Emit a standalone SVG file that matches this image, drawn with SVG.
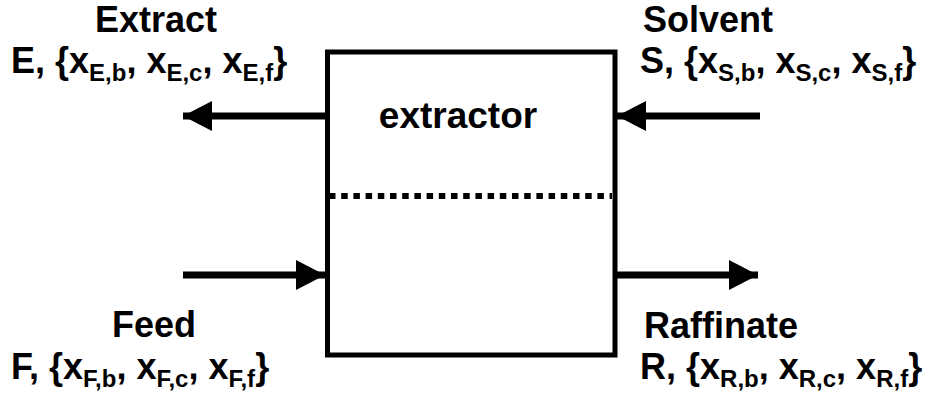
<svg xmlns="http://www.w3.org/2000/svg" width="930" height="399" viewBox="0 0 930 399">
<style>
text{font-family:"Liberation Sans",Arial,sans-serif;font-weight:bold;fill:#000}
.lbl{font-size:36px}
.sub{font-size:24px}
.flow{stroke:#000;stroke-width:7;fill:none}
</style>
<defs>
<marker id="ah" markerUnits="userSpaceOnUse" markerWidth="30" markerHeight="30" refX="29" refY="15" orient="auto" viewBox="0 0 30 30">
<path d="M0,0 L29,15 L0,30 Z" fill="#000"/>
</marker>
</defs>
<rect width="930" height="399" fill="#fff"/>
<g id="extractor">
<rect x="327.5" y="52" width="287.5" height="303" fill="#fff" stroke="#000" stroke-width="5"/>
<line x1="329" y1="196" x2="612" y2="196" stroke="#000" stroke-width="6" stroke-dasharray="6.5 5.7"/>
<text x="458" y="128" font-size="37" text-anchor="middle">extractor</text>
</g>
<g id="connectors">
<line class="flow" x1="325" y1="116" x2="183" y2="116" marker-end="url(#ah)"/>
<line class="flow" x1="760" y1="116" x2="617" y2="116" marker-end="url(#ah)"/>
<line class="flow" x1="183" y1="275" x2="325" y2="275" marker-end="url(#ah)"/>
<line class="flow" x1="617" y1="275" x2="758" y2="275" marker-end="url(#ah)"/>
</g>
<g id="extract">
<text class="lbl" x="156" y="32" text-anchor="middle">Extract</text>
<text class="lbl" x="11" y="73">E, {x<tspan class="sub" dy="8">E,b</tspan><tspan dy="-8">, x</tspan><tspan class="sub" dy="8">E,c</tspan><tspan dy="-8">, x</tspan><tspan class="sub" dy="8">E,f</tspan><tspan dy="-8">}</tspan></text>
</g>
<g id="solvent">
<text class="lbl" x="708" y="32" text-anchor="middle">Solvent</text>
<text class="lbl" x="640" y="73">S, {x<tspan class="sub" dy="8">S,b</tspan><tspan dy="-8">, x</tspan><tspan class="sub" dy="8">S,c</tspan><tspan dy="-8">, x</tspan><tspan class="sub" dy="8">S,f</tspan><tspan dy="-8">}</tspan></text>
</g>
<g id="feed">
<text class="lbl" x="154" y="337" text-anchor="middle">Feed</text>
<text class="lbl" x="11" y="379">F, {x<tspan class="sub" dy="8">F,b</tspan><tspan dy="-8">, x</tspan><tspan class="sub" dy="8">F,c</tspan><tspan dy="-8">, x</tspan><tspan class="sub" dy="8">F,f</tspan><tspan dy="-8">}</tspan></text>
</g>
<g id="raffinate">
<text class="lbl" x="721" y="338" text-anchor="middle">Raffinate</text>
<text class="lbl" x="640" y="379">R, {x<tspan class="sub" dy="8">R,b</tspan><tspan dy="-8">, x</tspan><tspan class="sub" dy="8">R,c</tspan><tspan dy="-8">, x</tspan><tspan class="sub" dy="8">R,f</tspan><tspan dy="-8">}</tspan></text>
</g>
</svg>
